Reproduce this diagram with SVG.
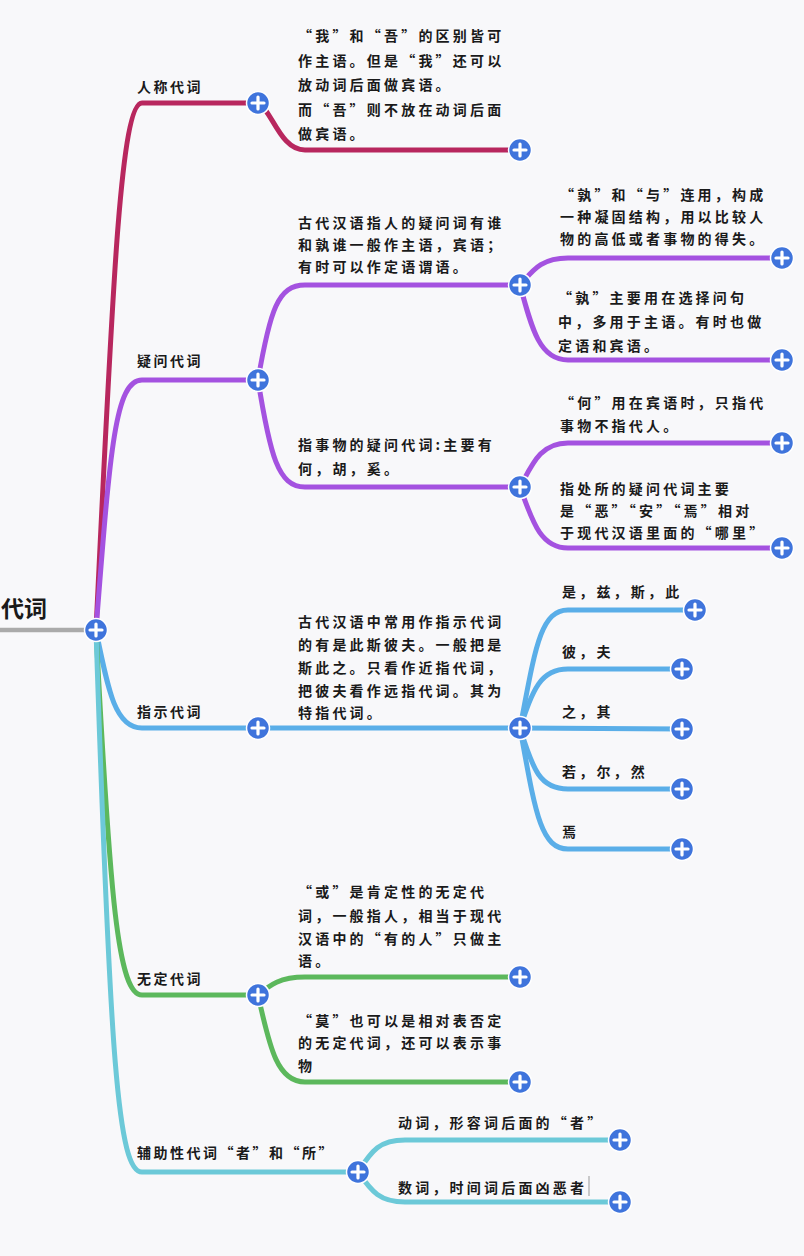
<svg xmlns="http://www.w3.org/2000/svg" width="804" height="1256" viewBox="0 0 804 1256">
<defs>
<style>
.t{font-family:"Noto Sans CJK SC","Noto Sans CJK JP",sans-serif;font-size:14px;font-weight:700;fill:#1a1a1a;letter-spacing:3.2px}
.lb{font-family:"Noto Sans CJK SC","Noto Sans CJK JP",sans-serif;font-size:14px;font-weight:700;fill:#1a1a1a;letter-spacing:2.5px}
.c{fill:none;stroke-width:5;stroke-linecap:round}
.red{stroke:#b8275e}.pur{stroke:#a452e0}.blu{stroke:#5aaee8}.grn{stroke:#5cb85c}.cya{stroke:#6cc9d8}
</style>
<g id="plus">
<circle r="11.5" fill="#3f74dc" stroke="#ffffff" stroke-width="1.5"/>
<path d="M-6,0H6M0,-6V6" stroke="#ffffff" stroke-width="3.2" stroke-linecap="round"/>
</g>
</defs>
<rect width="804" height="1256" fill="#f8f8fa"/>
<g id="connectors">
<path d="M0,630H90" stroke="#aaaaaa" stroke-width="4.5" fill="none"/>
<path class="c red" d="M96,630 C112,300 120,103 142,103 L258,103"/>
<path class="c red" d="M258,103 C272,110 280,150 305,150 L520,150"/>
<path class="c pur" d="M96,630 C110,450 115,380 142,380 L258,380"/>
<path class="c pur" d="M258,380 C270,310 278,285 305,285 L520,285"/>
<path class="c pur" d="M258,380 C270,455 278,487 305,487 L520,487"/>
<path class="c pur" d="M520,285 C532,272 540,258 568,258 L782,258"/>
<path class="c pur" d="M520,285 C532,330 540,360 568,360 L782,360"/>
<path class="c pur" d="M520,487 C532,465 540,443 568,443 L782,443"/>
<path class="c pur" d="M520,487 C532,520 540,548 568,548 L782,548"/>
<path class="c blu" d="M96,630 C108,690 115,728 142,728 L520,728"/>
<path class="c blu" d="M520,728 C535,650 540,610 568,610 L695,610"/>
<path class="c blu" d="M520,728 C533,690 540,669 568,669 L682,669"/>
<path class="c blu" d="M520,728 L682,729"/>
<path class="c blu" d="M520,728 C533,770 540,789 568,789 L682,789"/>
<path class="c blu" d="M520,728 C535,810 540,849 568,849 L682,849"/>
<path class="c grn" d="M96,630 C110,900 118,995 142,995 L258,995"/>
<path class="c grn" d="M258,995 C270,985 280,977 305,977 L520,977"/>
<path class="c grn" d="M258,995 C270,1050 278,1082 305,1082 L520,1082"/>
<path class="c cya" d="M96,630 C110,1060 118,1172 142,1172 L358,1172"/>
<path class="c cya" d="M358,1172 C372,1150 380,1140 405,1140 L620,1140"/>
<path class="c cya" d="M358,1172 C372,1192 380,1202 405,1202 L620,1202"/>
</g>
<g id="root">
<text x="1" y="617" font-family="Noto Sans CJK SC,sans-serif" font-size="23" font-weight="700" fill="#1a1a1a">代词</text>
<use href="#plus" x="96" y="630"/>
</g>
<g id="n-renchen">
<text class="lb" x="137" y="92">人称代词</text>
<use href="#plus" x="258" y="103"/>
</g>
<g id="n-renchen-1">
<text class="t" x="298" y="41">“我”和“吾”的区别皆可</text>
<text class="t" x="298" y="66">作主语。但是“我”还可以</text>
<text class="t" x="298" y="90">放动词后面做宾语。</text>
<text class="t" x="298" y="115">而“吾”则不放在动词后面</text>
<text class="t" x="298" y="139">做宾语。</text>
<use href="#plus" x="520" y="150"/>
</g>
<g id="n-yiwen">
<text class="lb" x="137" y="366">疑问代词</text>
<use href="#plus" x="258" y="380"/>
</g>
<g id="n-yiwen-1">
<text class="t" x="298" y="228">古代汉语指人的疑问词有谁</text>
<text class="t" x="298" y="250">和孰谁一般作主语，宾语；</text>
<text class="t" x="298" y="272">有时可以作定语谓语。</text>
<use href="#plus" x="520" y="285"/>
</g>
<g id="n-yiwen-1-1">
<text class="t" x="560" y="200">“孰”和“与”连用，构成</text>
<text class="t" x="560" y="222">一种凝固结构，用以比较人</text>
<text class="t" x="560" y="244">物的高低或者事物的得失。</text>
<use href="#plus" x="782" y="258"/>
</g>
<g id="n-yiwen-1-2">
<text class="t" x="558" y="303">“孰”主要用在选择问句</text>
<text class="t" x="558" y="327">中，多用于主语。有时也做</text>
<text class="t" x="558" y="351">定语和宾语。</text>
<use href="#plus" x="782" y="360"/>
</g>
<g id="n-yiwen-2">
<text class="t" x="298" y="450">指事物的疑问代词:主要有</text>
<text class="t" x="298" y="474">何，胡，奚。</text>
<use href="#plus" x="520" y="487"/>
</g>
<g id="n-yiwen-2-1">
<text class="t" x="560" y="408">“何”用在宾语时，只指代</text>
<text class="t" x="560" y="431">事物不指代人。</text>
<use href="#plus" x="782" y="443"/>
</g>
<g id="n-yiwen-2-2">
<text class="t" x="560" y="494">指处所的疑问代词主要</text>
<text class="t" x="560" y="516">是“恶”“安”“焉”相对</text>
<text class="t" x="560" y="538">于现代汉语里面的“哪里”</text>
<use href="#plus" x="782" y="548"/>
</g>
<g id="n-zhishi">
<text class="lb" x="137" y="717">指示代词</text>
<use href="#plus" x="258" y="728"/>
</g>
<g id="n-zhishi-1">
<text class="t" x="298" y="627">古代汉语中常用作指示代词</text>
<text class="t" x="298" y="650">的有是此斯彼夫。一般把是</text>
<text class="t" x="298" y="673">斯此之。只看作近指代词，</text>
<text class="t" x="298" y="696">把彼夫看作远指代词。其为</text>
<text class="t" x="298" y="718">特指代词。</text>
<use href="#plus" x="520" y="728"/>
</g>
<g id="n-zhishi-1-1">
<text class="t" x="562" y="597">是，兹，斯，此</text>
<use href="#plus" x="695" y="610"/>
</g>
<g id="n-zhishi-1-2">
<text class="t" x="562" y="657">彼，夫</text>
<use href="#plus" x="682" y="669"/>
</g>
<g id="n-zhishi-1-3">
<text class="t" x="562" y="717">之，其</text>
<use href="#plus" x="682" y="729"/>
</g>
<g id="n-zhishi-1-4">
<text class="t" x="562" y="777">若，尔，然</text>
<use href="#plus" x="682" y="789"/>
</g>
<g id="n-zhishi-1-5">
<text class="t" x="562" y="837">焉</text>
<use href="#plus" x="682" y="849"/>
</g>
<g id="n-wuding">
<text class="lb" x="137" y="984">无定代词</text>
<use href="#plus" x="258" y="995"/>
</g>
<g id="n-wuding-1">
<text class="t" x="298" y="897">“或”是肯定性的无定代</text>
<text class="t" x="298" y="921">词，一般指人，相当于现代</text>
<text class="t" x="298" y="944">汉语中的“有的人”只做主</text>
<text class="t" x="298" y="966">语。</text>
<use href="#plus" x="520" y="977"/>
</g>
<g id="n-wuding-2">
<text class="t" x="298" y="1026">“莫”也可以是相对表否定</text>
<text class="t" x="298" y="1048">的无定代词，还可以表示事</text>
<text class="t" x="298" y="1071">物</text>
<use href="#plus" x="520" y="1082"/>
</g>
<g id="n-fuzhu">
<text class="lb" x="137" y="1158">辅助性代词“者”和“所”</text>
<use href="#plus" x="358" y="1172"/>
</g>
<g id="n-fuzhu-1">
<text class="t" x="398" y="1128">动词，形容词后面的“者”</text>
<use href="#plus" x="620" y="1140"/>
</g>
<g id="n-fuzhu-2">
<text class="t" x="398" y="1193">数词，时间词后面凶恶者</text>
<path d="M589,1176V1196" stroke="#999999" stroke-width="1"/>
<use href="#plus" x="620" y="1202"/>
</g>
</svg>
